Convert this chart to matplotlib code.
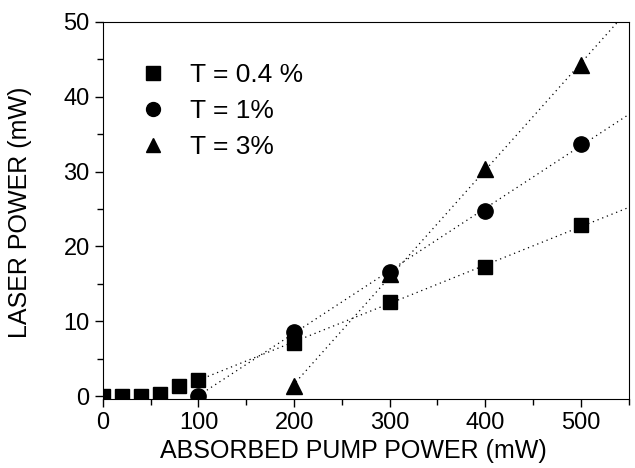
import matplotlib.pyplot as plt
import numpy as np

plt.rcParams['font.family'] = ['Liberation Sans', 'DejaVu Sans']

# Datos
x_t04 = [0, 20, 40, 60, 80, 100, 200, 300, 400, 500]
y_t04 = [0, 0, 0, 0.3, 1.3, 2.2, 7.1, 12.6, 17.2, 22.8]

x_t1 = [100, 200, 300, 400, 500]
y_t1 = [0, 8.6, 16.6, 24.8, 33.7]

x_t3 = [200, 300, 400, 500]
y_t3 = [1.3, 16.3, 30.3, 44.3]

etiquetas = ["T = 0.4 %", "T = 1%", "T = 3%"]

fig = plt.figure(figsize=(6.35, 4.68), dpi=100)
ax = fig.add_axes([0.162, 0.1474, 0.828, 0.8056])

# Ajustes lineales (punteados) por encima del umbral
def ajuste(x, y, desde):
    m, b = np.polyfit(x, y, 1)
    xs = np.array([desde, 550])
    ax.plot(xs, m * xs + b, color='black', linestyle=(0, (1, 3)), linewidth=0.9)

ajuste(x_t04[5:], y_t04[5:], 100)
ajuste(x_t1[1:], y_t1[1:], 100)
ajuste(x_t3, y_t3, 195)

ax.plot(x_t04, y_t04, 's', color='black', markersize=10, label=etiquetas[0])
ax.plot(x_t1, y_t1, 'o', color='black', markersize=11, label=etiquetas[1])
ax.plot(x_t3, y_t3, '^', color='black', markersize=12, label=etiquetas[2])

ax.set_xlim(0, 550)
ax.set_ylim(-0.4, 50)
ax.set_xticks([0, 100, 200, 300, 400, 500])
ax.set_xticks(np.arange(50, 551, 100), minor=True)
ax.set_yticks([0, 10, 20, 30, 40, 50])
ax.set_yticks(np.arange(5, 50, 10), minor=True)
ax.tick_params(which='major', direction='out', length=6, width=1, labelsize=17)
ax.tick_params(which='minor', direction='out', length=4, width=1)

ax.set_xlabel("ABSORBED PUMP POWER (mW)", fontsize=18)
ax.xaxis.set_label_coords(0.477, -0.105)
ax.set_ylabel("LASER POWER (mW)", fontsize=18)
ax.yaxis.set_label_coords(-0.135, 0.495)

leg = ax.legend(loc='upper left', bbox_to_anchor=(0.05, 0.918), frameon=False,
                fontsize=19, handlelength=1.0, handletextpad=0.9,
                labelspacing=0.45, borderaxespad=0)
for h in leg.legend_handles:
    h.set_markersize(10)

fig.savefig("out.png", dpi=100)
